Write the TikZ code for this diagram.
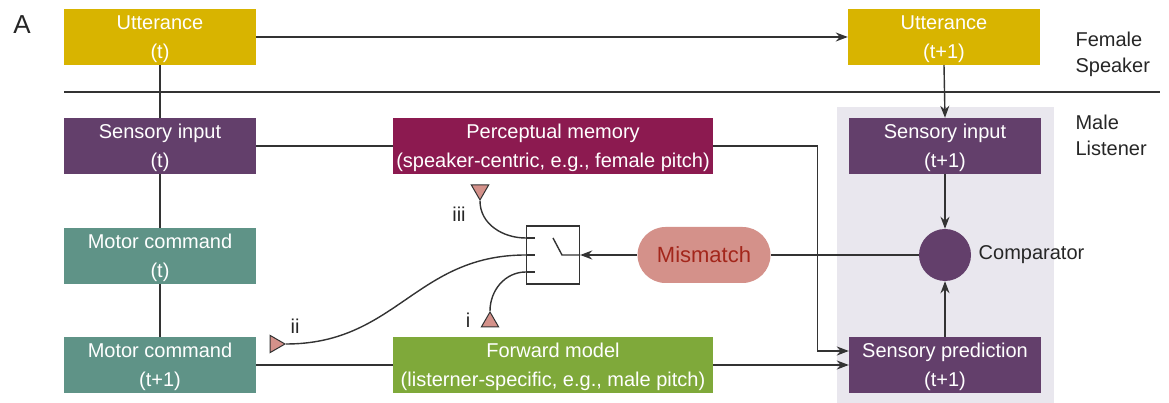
\documentclass[tikz,border=0pt]{standalone}
\usepackage{fontspec}
\setmainfont{Liberation Sans}
\usepackage{tikz}
\usetikzlibrary{shapes, shapes.geometric, arrows.meta, positioning}

\definecolor{utter}{HTML}{D8B400}
\definecolor{sens}{HTML}{633F6B}
\definecolor{motor}{HTML}{5F9387}
\definecolor{percep}{HTML}{8C1A50}
\definecolor{fwd}{HTML}{7FA93A}
\definecolor{mism}{HTML}{D4918A}
\definecolor{mismtext}{HTML}{A3261B}
\definecolor{listbg}{HTML}{E9E7EE}
\definecolor{ln}{HTML}{333333}

\begin{document}
\begin{tikzpicture}[x=1pt, y=1pt,
    box/.style={rectangle, minimum width=192pt, minimum height=56pt, inner sep=0pt,
        text height=50pt, text depth=6pt,
        text=white, align=center, font=\fontsize{20}{29}\selectfont},
    widebox/.style={box, minimum width=320pt},
    conn/.style={draw=ln, line width=1.4pt},
    arr/.style={conn, -{Stealth[length=12pt, width=9pt]}},
    pin/.style={regular polygon, regular polygon sides=3, minimum size=20pt, inner sep=0pt,
        fill=mism, draw=ln, line width=1pt},
    lbl/.style={font=\fontsize{20}{26}\selectfont, text=black!85}]
    \useasboundingbox (0,0) rectangle (1169,403);
    \fill[listbg] (837,0) rectangle (1054,296);

    \node[lbl, font=\fontsize{26}{30}\selectfont] (panel) at (22,378) {A};
    % speaker row
    \node[box, fill=utter] (utt) at (160,366) {Utterance\\(t)};
    \node[box, fill=utter] (uttnext) at (944,366) {Utterance\\(t+1)};
    \coordinate (sepl) at (64,311);
    \coordinate (sepr) at (1160,311);
    \draw[conn, line width=1.1pt] (sepl) -- (sepr);
    \node[lbl, anchor=west, align=left] (female) at (1072,349) {Female\\Speaker};
    \node[lbl, anchor=west, align=left] (male) at (1072,268) {Male\\Listener};

    % listener
    \node[box, fill=sens] (sensin) at (160,257) {Sensory input\\(t)};
    \node[box, fill=motor] (motcmd) at (160,147) {Motor command\\(t)};
    \node[box, fill=motor] (motnext) at (160,38) {Motor command\\(t+1)};
    \node[widebox, fill=percep] (percmem) at (553,257) {Perceptual memory\\(speaker-centric, e.g., female pitch)};
    \node[widebox, fill=fwd] (fwdmod) at (553,38) {Forward model\\(listerner-specific, e.g., male pitch)};
    \node[box, fill=sens] (sensnext) at (945,257) {Sensory input\\(t+1)};
    \node[box, fill=sens] (senspred) at (945,38) {Sensory prediction\\(t+1)};
    \node[circle, fill=sens, minimum size=52pt, inner sep=0pt] (comp) at (945,148) {};
    \node[lbl, anchor=west, xshift=4pt] (complbl) at (comp.east) {Comparator};
    \node[rectangle, rounded corners=28pt, fill=mism, minimum width=133pt, minimum height=56pt,
        text=mismtext, font=\fontsize{22}{26}\selectfont] (mism) at (704,148) {Mismatch};

    % switch
    \node[rectangle, draw=ln, line width=1.4pt, fill=white, minimum width=53pt, minimum height=58pt] (switch) at (553,148) {};
    \coordinate (tiii) at ([yshift=17pt]switch.west);
    \coordinate (tii) at (switch.west);
    \coordinate (ti) at ([yshift=-17pt]switch.west);
    \draw[conn] (tiii) -- ++(9,0);
    \draw[conn] (tii) -- ++(9,0);
    \draw[conn] (ti) -- ++(9,0);
    \draw[conn] ([shift={(0,17)}]switch.center) -- ([xshift=9pt]switch.center) -- (switch.east);

    \node[pin, regular polygon rotate=180] (piniii) at (480,213) {};
    \node[pin] (pini) at (490,81) {};
    \node[pin, regular polygon rotate=-90] (pinii) at (275,59) {};
    \node[lbl] (labiii) at (459,189) {iii};
    \node[lbl] (labi) at (468,83) {i};
    \node[lbl] (labii) at (295,77) {ii};
    \draw[conn] (piniii.corner 1) to[out=-90, in=180] (tiii);
    \draw[conn] (pini.corner 1) to[out=90, in=180] (ti);
    \draw[conn] (pinii.corner 1) to[out=0, in=180, looseness=1.1] (tii);

    % connectors
    \draw[arr] (utt.east) -- (uttnext.west);
    \draw[arr] (uttnext.south) -- (sensnext.north);
    \draw[conn] (utt.south) -- (sensin.north);
    \draw[conn] (sensin.south) -- (motcmd.north);
    \draw[conn] (motcmd.south) -- (motnext.north);
    \draw[conn] (sensin.east) -- (percmem.west);
    \draw[arr] (percmem.east) -- ++(104,0) |- ([yshift=14pt]senspred.west);
    \draw[conn] (motnext.east) -- (fwdmod.west);
    \draw[arr] (fwdmod.east) -- (senspred.west);
    \draw[arr] (sensnext.south) -- (comp.north);
    \draw[arr] (senspred.north) -- (comp.south);
    \draw[conn] (comp.west) -- (mism.east);
    \draw[arr] (mism.west) -- (switch.east);
\end{tikzpicture}
\end{document}
